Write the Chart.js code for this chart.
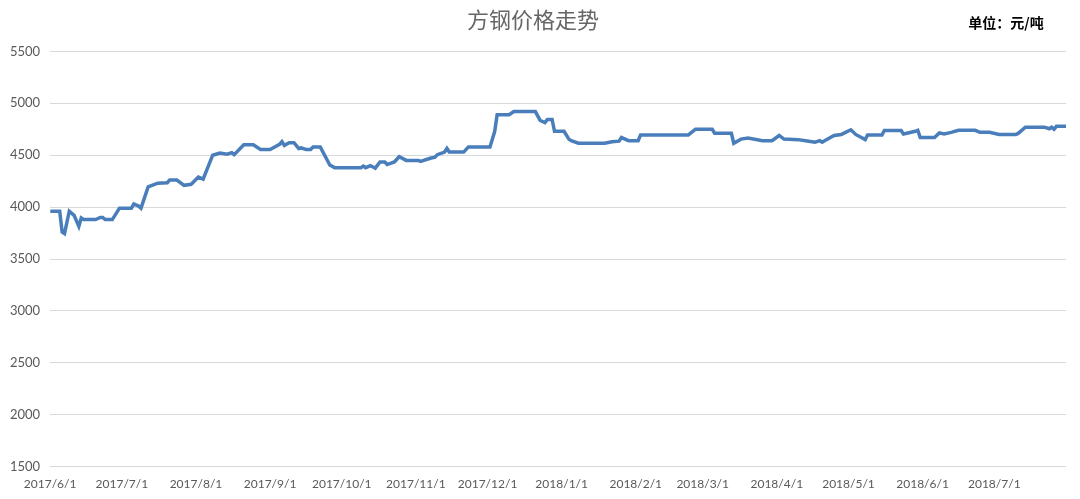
<!DOCTYPE html>
<html lang="zh-CN">
<head>
    <meta charset="UTF-8">
    <title>方钢价格走势</title>
    <script src="https://cdn.jsdelivr.net/npm/chart.js"></script>
    <style>
        html, body { margin: 0; padding: 0; background: #fff; }
        #chart-container { width: 1080px; height: 499px; }
    </style>
</head>
<body>
    <div id="chart-container">
        <canvas id="priceChart"></canvas>
    </div>
    <script>
        // data (yuan / ton)
        const dates = [
            '2017/6/1', '2017/6/5', '2017/6/6', '2017/6/7', '2017/6/9', '2017/6/11', '2017/6/13', '2017/6/14',
            '2017/6/15', '2017/6/20', '2017/6/22', '2017/6/23', '2017/6/24', '2017/6/27', '2017/6/30',
            '2017/7/5', '2017/7/6', '2017/7/8', '2017/7/9', '2017/7/12', '2017/7/16', '2017/7/20', '2017/7/21',
            '2017/7/24', '2017/7/27', '2017/7/30', '2017/8/2', '2017/8/4', '2017/8/8', '2017/8/11', '2017/8/14',
            '2017/8/16', '2017/8/17', '2017/8/21', '2017/8/25', '2017/8/28', '2017/9/1', '2017/9/5', '2017/9/6',
            '2017/9/7', '2017/9/9', '2017/9/11', '2017/9/13', '2017/9/14', '2017/9/16', '2017/9/18', '2017/9/19',
            '2017/9/22', '2017/9/26', '2017/9/28', '2017/10/9', '2017/10/10', '2017/10/11', '2017/10/13',
            '2017/10/15', '2017/10/17', '2017/10/19', '2017/10/20', '2017/10/23', '2017/10/25', '2017/10/28',
            '2017/11/2', '2017/11/3', '2017/11/7', '2017/11/9', '2017/11/10', '2017/11/13', '2017/11/14',
            '2017/11/15', '2017/11/21', '2017/11/23', '2017/12/2', '2017/12/4', '2017/12/5', '2017/12/10',
            '2017/12/12', '2017/12/21', '2017/12/23', '2017/12/25', '2017/12/26', '2017/12/28', '2017/12/29',
            '2018/1/2', '2018/1/4', '2018/1/5', '2018/1/8', '2018/1/19', '2018/1/22', '2018/1/25', '2018/1/26',
            '2018/1/29', '2018/2/2', '2018/2/3', '2018/2/23', '2018/2/26', '2018/3/5', '2018/3/6', '2018/3/13',
            '2018/3/14', '2018/3/17', '2018/3/20', '2018/3/26', '2018/3/30', '2018/4/2', '2018/4/4', '2018/4/10',
            '2018/4/13', '2018/4/17', '2018/4/19', '2018/4/20', '2018/4/21', '2018/4/25', '2018/4/28', '2018/5/2',
            '2018/5/4', '2018/5/8', '2018/5/9', '2018/5/15', '2018/5/16', '2018/5/23', '2018/5/24', '2018/5/29',
            '2018/5/30', '2018/5/31', '2018/6/6', '2018/6/8', '2018/6/10', '2018/6/13', '2018/6/16', '2018/6/23',
            '2018/6/25', '2018/6/29', '2018/7/3', '2018/7/10', '2018/7/11', '2018/7/14', '2018/7/22', '2018/7/24',
            '2018/7/25', '2018/7/26', '2018/7/27', '2018/7/31'
        ];
        const prices = [
            3960, 3960, 3760, 3745, 3960, 3920, 3815, 3895,
            3880, 3880, 3900, 3900, 3880, 3880, 3990,
            3990, 4030, 4010, 3990, 4195, 4230, 4235, 4260,
            4260, 4210, 4220, 4290, 4270, 4500, 4520, 4510,
            4525, 4505, 4600, 4600, 4555, 4555, 4605, 4630,
            4595, 4620, 4620, 4565, 4570, 4555, 4555, 4580,
            4580, 4405, 4380, 4380, 4395, 4380, 4400,
            4375, 4435, 4435, 4410, 4435, 4485, 4450,
            4450, 4440, 4470, 4480, 4505, 4530, 4565,
            4530, 4530, 4580, 4580, 4730, 4890, 4890,
            4920, 4920, 4835, 4815, 4845, 4845, 4730,
            4730, 4655, 4640, 4615, 4615, 4630, 4635, 4670,
            4640, 4640, 4695, 4695, 4750, 4750, 4712, 4712,
            4615, 4655, 4665, 4640, 4640, 4690, 4655, 4650,
            4640, 4625, 4640, 4625, 4640, 4690, 4700, 4745,
            4700, 4650, 4695, 4695, 4738, 4738, 4705, 4730,
            4740, 4670, 4670, 4715, 4705, 4720, 4740, 4740,
            4720, 4720, 4700, 4700, 4710, 4770, 4770, 4755,
            4770, 4750, 4778, 4778
        ];
        const monthLabels = [
            '2017/6/1', '2017/7/1', '2017/8/1', '2017/9/1', '2017/10/1', '2017/11/1', '2017/12/1',
            '2018/1/1', '2018/2/1', '2018/3/1', '2018/4/1', '2018/5/1', '2018/6/1', '2018/7/1'
        ];

        function toDay(s) {
            const p = s.split('/').map(Number);
            return Date.UTC(p[0], p[1] - 1, p[2]) / 86400000;
        }
        const day0 = toDay(dates[0]);
        const points = dates.map((d, i) => ({ x: toDay(d) - day0, y: prices[i] }));

        // unit text in the top right corner
        const unitLabel = {
            id: 'unitLabel',
            afterDraw(chart) {
                const ctx = chart.ctx;
                ctx.save();
                ctx.font = 'bold 14px "Noto Sans CJK SC"';
                ctx.fillStyle = '#000';
                ctx.textAlign = 'center';
                ctx.textBaseline = 'middle';
                ctx.fillText('单位：元/吨', 1006, 23);
                ctx.restore();
            }
        };

        const ctx = document.getElementById('priceChart').getContext('2d');
        new Chart(ctx, {
            type: 'line',
            data: {
                datasets: [{
                    data: points,
                    borderColor: '#4A7EBB',
                    borderWidth: 3.5,
                    pointRadius: 0,
                    tension: 0,
                    fill: false
                }]
            },
            options: {
                responsive: true,
                maintainAspectRatio: false,
                animation: false,
                layout: { padding: { left: 0, right: 14, bottom: -2 } },
                plugins: {
                    legend: { display: false },
                    tooltip: { enabled: false },
                    title: {
                        display: true,
                        text: '方钢价格走势',
                        color: '#666666',
                        font: { family: '"Noto Sans CJK SC"', size: 22, weight: 'normal' },
                        padding: { top: 6, bottom: 19 }
                    }
                },
                scales: {
                    x: {
                        type: 'linear',
                        min: 0,
                        max: points[points.length - 1].x,
                        grid: { display: false, drawTicks: false },
                        border: { display: false },
                        afterBuildTicks(scale) {
                            scale.ticks = monthLabels.map(l => ({ value: toDay(l) - day0 }));
                        },
                        ticks: {
                            autoSkip: false,
                            maxRotation: 0,
                            padding: 10,
                            color: '#595959',
                            font: { family: 'Lato', size: 12 },
                            callback: (v) => monthLabels.find(l => toDay(l) - day0 === v) || ''
                        }
                    },
                    y: {
                        min: 1500,
                        max: 5500,
                        ticks: {
                            stepSize: 500,
                            padding: 10,
                            color: '#595959',
                            font: { family: 'Lato', size: 13 },
                            callback: (v) => String(v)
                        },
                        grid: { color: '#d9d9d9', drawTicks: false },
                        border: { display: false }
                    }
                }
            },
            plugins: [unitLabel]
        });
    </script>
</body>
</html>
